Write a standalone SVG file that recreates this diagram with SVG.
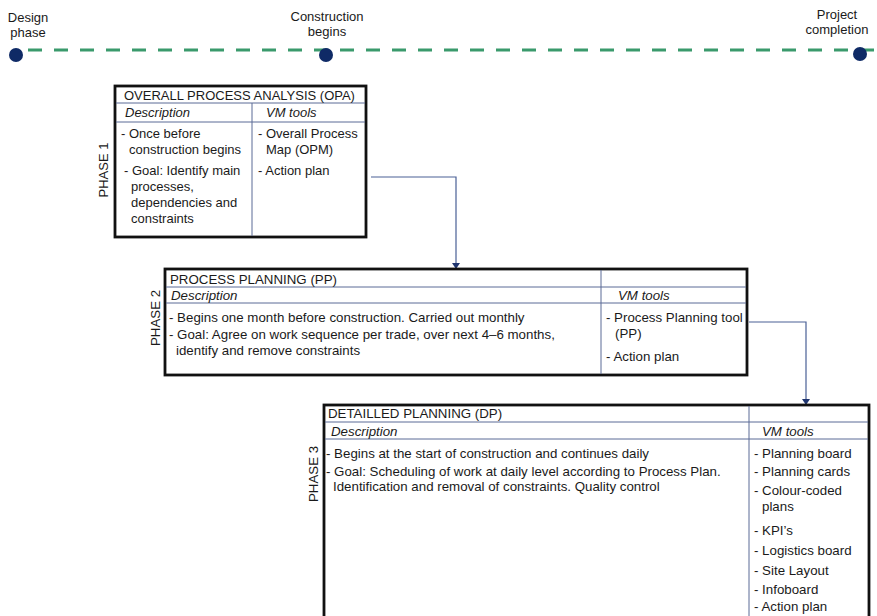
<svg xmlns="http://www.w3.org/2000/svg" width="877" height="616" viewBox="0 0 877 616">
<style>
  text { font-family: "Liberation Sans", Arial, sans-serif; font-size: 13px; fill: #1a1a1a; }
  .it { font-style: italic; }
  .mid { text-anchor: middle; }
  .p2 text, .p3 text { font-size: 13.3px; }
  .frame { fill: #ffffff; stroke: #111111; stroke-width: 2.8; }
  .grid { stroke: #5a6a96; stroke-width: 1; fill: none; }
  .conn { stroke: #4a6096; stroke-width: 1.2; fill: none; }
  .dot { fill: #0f2a66; }
  .head { fill: #1f3570; }
</style>
<rect width="877" height="616" fill="#ffffff"/>

<g id="timeline">
  <line x1="28" y1="50" x2="877" y2="50" stroke="#3a9a6c" stroke-width="3" stroke-dasharray="14 12"/>
  <circle class="dot" cx="16" cy="55" r="7"/>
  <circle class="dot" cx="326" cy="55" r="7"/>
  <circle class="dot" cx="860" cy="54" r="7"/>
  <text class="mid" x="28" y="22">Design</text>
  <text class="mid" x="28" y="37">phase</text>
  <text class="mid" x="327" y="21">Construction</text>
  <text class="mid" x="327" y="36">begins</text>
  <text class="mid" x="837" y="19">Project</text>
  <text class="mid" x="837" y="34">completion</text>
</g>

<g id="connectors">
  <path class="conn" d="M371,177 H456 V263"/>
  <path class="head" d="M452,263 L460,263 L456,269 Z"/>
  <path class="conn" d="M749,322 H806 V399"/>
  <path class="head" d="M802,399 L810,399 L806,405 Z"/>
</g>

<g id="phase1">
  <rect class="frame" x="115" y="86" width="251" height="151"/>
  <line class="grid" x1="116" y1="103" x2="365" y2="103"/>
  <line class="grid" x1="116" y1="122" x2="365" y2="122"/>
  <line class="grid" x1="252" y1="103" x2="252" y2="236"/>
  <text x="124" y="100">OVERALL PROCESS ANALYSIS (OPA)</text>
  <text class="it" x="125" y="117">Description</text>
  <text class="it" x="266" y="117">VM tools</text>
  <text x="121" y="138">- Once before</text>
  <text x="129" y="154">construction begins</text>
  <text x="124" y="175">- Goal: Identify main</text>
  <text x="131" y="191">processes,</text>
  <text x="131" y="207">dependencies and</text>
  <text x="131" y="223">constraints</text>
  <text x="258" y="138">- Overall Process</text>
  <text x="266" y="154">Map (OPM)</text>
  <text x="258" y="175">- Action plan</text>
  <text transform="translate(108 170) rotate(-90)" class="mid">PHASE 1</text>
</g>

<g id="phase2" class="p2">
  <rect class="frame" x="165" y="269" width="582" height="106"/>
  <line class="grid" x1="166" y1="287" x2="746" y2="287"/>
  <line class="grid" x1="166" y1="303" x2="746" y2="303"/>
  <line class="grid" x1="601" y1="270" x2="601" y2="374"/>
  <text x="170" y="284">PROCESS PLANNING (PP)</text>
  <text class="it" x="171" y="300">Description</text>
  <text class="it" x="618" y="300">VM tools</text>
  <text x="169" y="322">- Begins one month before construction. Carried out monthly</text>
  <text x="169" y="339">- Goal: Agree on work sequence per trade, over next 4–6 months,</text>
  <text x="176" y="355">identify and remove constraints</text>
  <text x="606" y="322">- Process Planning tool</text>
  <text x="615" y="338">(PP)</text>
  <text x="606" y="361">- Action plan</text>
  <text transform="translate(160 318) rotate(-90)" class="mid">PHASE 2</text>
</g>

<g id="phase3" class="p3">
  <rect class="frame" x="324" y="405" width="545" height="220"/>
  <line class="grid" x1="325" y1="422" x2="868" y2="422"/>
  <line class="grid" x1="325" y1="439" x2="868" y2="439"/>
  <line class="grid" x1="749" y1="406" x2="749" y2="616"/>
  <text x="328" y="418">DETAILLED PLANNING (DP)</text>
  <text class="it" x="331" y="436">Description</text>
  <text class="it" x="762" y="436">VM tools</text>
  <text x="326" y="458">- Begins at the start of construction and continues daily</text>
  <text x="326" y="476">- Goal: Scheduling of work at daily level according to Process Plan.</text>
  <text x="333" y="491">Identification and removal of constraints. Quality control</text>
  <text x="754" y="458">- Planning board</text>
  <text x="754" y="476">- Planning cards</text>
  <text x="754" y="495">- Colour-coded</text>
  <text x="762" y="511">plans</text>
  <text x="754" y="535">- KPI’s</text>
  <text x="754" y="555">- Logistics board</text>
  <text x="754" y="575">- Site Layout</text>
  <text x="754" y="594">- Infoboard</text>
  <text x="754" y="611">- Action plan</text>
  <text transform="translate(318 474) rotate(-90)" class="mid">PHASE 3</text>
</g>
</svg>
